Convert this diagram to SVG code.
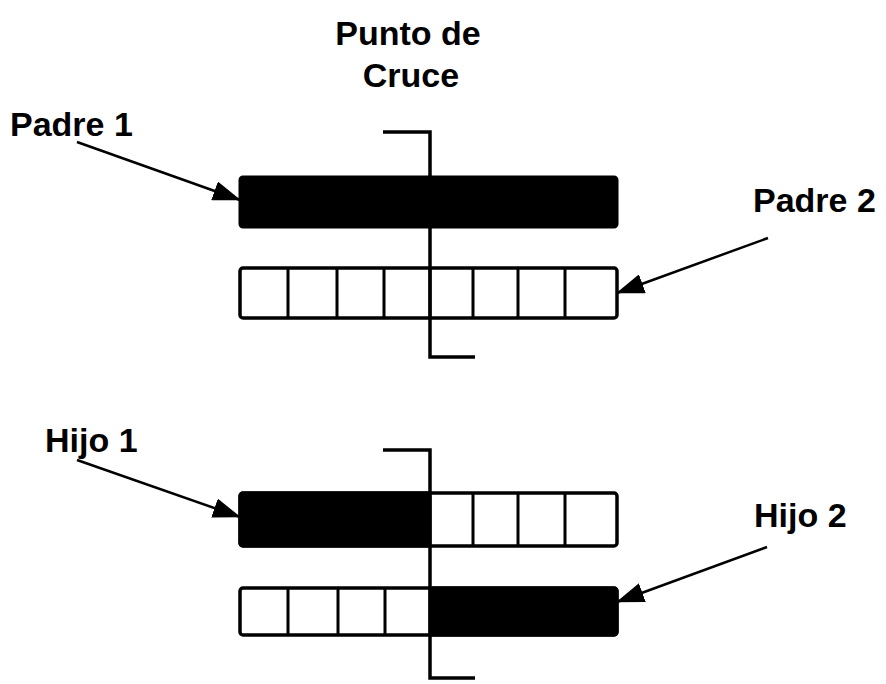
<svg xmlns="http://www.w3.org/2000/svg" width="886" height="684" viewBox="0 0 886 684">
<style>
.lbl{font-family:"Liberation Sans",Arial,sans-serif;font-weight:bold;font-size:34px;fill:#000}
.blk{fill:#000;stroke:#000;stroke-width:3}
.cell{fill:#fff;stroke:#000;stroke-width:3.5}
.div{stroke:#000;stroke-width:3;fill:none}
.cut{stroke:#000;stroke-width:3.5;fill:none}
.arr{stroke:#000;stroke-width:2.5;fill:none;marker-end:url(#ah)}
</style>
<defs>
<marker id="ah" viewBox="0 0 28 20" refX="27" refY="10" markerWidth="28" markerHeight="20" markerUnits="userSpaceOnUse" orient="auto">
<path d="M0,0 L28,10 L0,20 z" fill="#000"/>
</marker>
</defs>
<rect width="886" height="684" fill="#fff"/>

<g id="titulo">
<text class="lbl" x="408" y="45" text-anchor="middle">Punto de</text>
<text class="lbl" x="411" y="87" text-anchor="middle">Cruce</text>
</g>

<g id="padre1">
<rect class="blk" x="240" y="177" width="377" height="50" rx="3"/>
<text class="lbl" x="10" y="136">Padre 1</text>
</g>

<g id="padre2">
<rect class="cell" x="240" y="268" width="377" height="50" rx="3"/>
<path class="div" d="M288,268V318M337,268V318M384,268V318M430,268V318M473,268V318M518,268V318M565,268V318"/>
<text class="lbl" x="753" y="212">Padre 2</text>
</g>

<g id="hijo1">
<rect class="cell" x="240" y="493" width="377" height="53" rx="3"/>
<rect class="blk" x="240" y="493" width="190" height="53" rx="3"/>
<path class="div" d="M473,493V546M518,493V546M565,493V546"/>
<text class="lbl" x="45" y="452">Hijo 1</text>
</g>

<g id="hijo2">
<rect class="cell" x="240" y="588" width="377" height="47" rx="3"/>
<rect class="blk" x="430" y="588" width="187" height="47" rx="3"/>
<path class="div" d="M288,588V635M338,588V635M385,588V635"/>
<text class="lbl" x="754" y="527">Hijo 2</text>
</g>

<g id="corte1">
<polyline class="cut" points="383,132 430,132 430,357 475,357"/>
</g>

<g id="corte2">
<polyline class="cut" points="383,450 430,450 430,678 475,678"/>
</g>

<g id="conectores">
<line class="arr" x1="77" y1="142" x2="240" y2="200"/>
<line class="arr" x1="768" y1="238" x2="617" y2="293"/>
<line class="arr" x1="77" y1="460" x2="240" y2="517"/>
<line class="arr" x1="767" y1="547" x2="617" y2="602"/>
</g>
</svg>
